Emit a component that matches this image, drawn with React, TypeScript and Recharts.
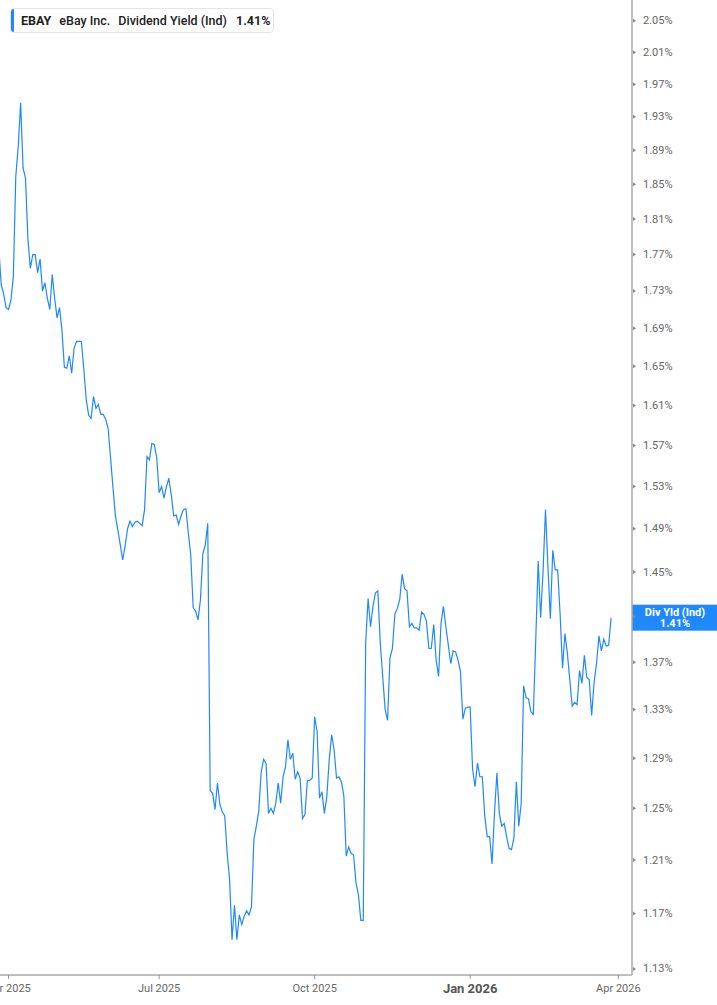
import React from 'react';
import { LineChart, Line, XAxis, YAxis, ReferenceLine } from 'recharts';

// ---- data ----
const TICKER = 'EBAY';
const COMPANY = 'eBay Inc.';
const METRIC = 'Dividend Yield (Ind)';
const SHORT_METRIC = 'Div Yld (Ind)';

// first trading day of the series and market holidays (used to lay out trading days)
const START_DATE = '2025-03-26';
const HOLIDAYS = [
  '2025-04-18', '2025-05-26', '2025-06-19', '2025-07-04', '2025-09-01',
  '2025-11-27', '2025-12-25', '2026-01-01', '2026-01-19', '2026-02-16', '2026-04-03',
];
const EXTRA_DAYS = 10; // empty trading days after the last value

// dividend yield in %, one value per trading day
const yieldValues = [
  1.778,
  1.737, 1.727, 1.712, 1.710, 1.720, 1.746, 1.859, 1.894, 1.947, 1.869,
  1.857, 1.787, 1.755, 1.770, 1.770, 1.750, 1.765, 1.730, 1.739, 1.722,
  1.710, 1.748, 1.722, 1.701, 1.712, 1.688, 1.649, 1.648, 1.661, 1.643,
  1.669, 1.676, 1.676, 1.676, 1.647, 1.616, 1.600, 1.597, 1.619, 1.607,
  1.611, 1.601, 1.601, 1.596, 1.587, 1.558, 1.529, 1.502, 1.489, 1.475,
  1.461, 1.474, 1.490, 1.497, 1.492, 1.496, 1.497, 1.495, 1.493, 1.508,
  1.559, 1.556, 1.572, 1.571, 1.558, 1.524, 1.530, 1.519, 1.530, 1.538,
  1.522, 1.502, 1.503, 1.494, 1.502, 1.508, 1.509, 1.486, 1.466, 1.418,
  1.415, 1.407, 1.425, 1.467, 1.475, 1.495, 1.264, 1.262, 1.249, 1.270,
  1.253, 1.247, 1.244, 1.215, 1.195, 1.151, 1.176, 1.151, 1.169, 1.162,
  1.168, 1.172, 1.169, 1.175, 1.226, 1.236, 1.248, 1.279, 1.289, 1.286,
  1.246, 1.250, 1.246, 1.254, 1.270, 1.254, 1.275, 1.283, 1.305, 1.289,
  1.294, 1.273, 1.279, 1.274, 1.242, 1.245, 1.272, 1.272, 1.274, 1.324,
  1.312, 1.258, 1.263, 1.246, 1.259, 1.289, 1.309, 1.297, 1.274, 1.275,
  1.271, 1.260, 1.213, 1.220, 1.215, 1.214, 1.193, 1.184, 1.165, 1.165,
  1.387, 1.426, 1.401, 1.419, 1.431, 1.433, 1.387, 1.358, 1.330, 1.321,
  1.374, 1.382, 1.412, 1.417, 1.425, 1.448, 1.435, 1.433, 1.401, 1.404,
  1.400, 1.400, 1.398, 1.414, 1.412, 1.406, 1.382, 1.382, 1.403, 1.372,
  1.358, 1.404, 1.419, 1.401, 1.385, 1.369, 1.380, 1.379, 1.372, 1.362,
  1.322, 1.331, 1.332, 1.332, 1.281, 1.267, 1.286, 1.275, 1.275, 1.244,
  1.228, 1.228, 1.207, 1.246, 1.278, 1.246, 1.236, 1.238, 1.228, 1.219,
  1.218, 1.227, 1.271, 1.236, 1.254, 1.350, 1.340, 1.339, 1.328, 1.326,
  1.390, 1.460, 1.409, 1.451, 1.508, 1.455, 1.408, 1.470, 1.452, 1.452,
  1.413, 1.365, 1.395, 1.378, 1.355, 1.333, 1.336, 1.334, 1.363, 1.352,
  1.376, 1.357, 1.355, 1.325, 1.353, 1.369, 1.393, 1.380, 1.390, 1.384,
  1.385, 1.409,
];

const yTicks = [
  1.13, 1.17, 1.21, 1.25, 1.29, 1.33, 1.37, 1.41, 1.45, 1.49, 1.53, 1.57,
  1.61, 1.65, 1.69, 1.73, 1.77, 1.81, 1.85, 1.89, 1.93, 1.97, 2.01, 2.05,
];
const Y_DOMAIN: [number, number] = [1.1257, 2.077];
const X_DOMAIN: [number, number] = [0.506, 260.6];

const MONTHS = ['Jan', 'Feb', 'Mar', 'Apr', 'May', 'Jun', 'Jul', 'Aug', 'Sep', 'Oct', 'Nov', 'Dec'];

// ---- build trading-day calendar ----
function buildTradingDays(start: string, count: number): Date[] {
  const out: Date[] = [];
  const d = new Date(start + 'T00:00:00Z');
  while (out.length < count) {
    const dow = d.getUTCDay();
    const iso = d.toISOString().slice(0, 10);
    if (dow !== 0 && dow !== 6 && !HOLIDAYS.includes(iso)) out.push(new Date(d.getTime()));
    d.setUTCDate(d.getUTCDate() + 1);
  }
  return out;
}

const tradingDays = buildTradingDays(START_DATE, yieldValues.length + EXTRA_DAYS);
const chartData = yieldValues.map((v, i) => ({ i, v }));
const quarterTicks = tradingDays
  .map((d, i) => ({ d, i }))
  .filter(({ d, i }) => i > 0 && d.getUTCMonth() !== tradingDays[i - 1].getUTCMonth() && d.getUTCMonth() % 3 === 0)
  .map(({ i }) => i);

const lastValue = yieldValues[yieldValues.length - 1];
const BLUE = '#1f88ff';
const FONT = 'Roboto, "Noto Sans", sans-serif';

const XTick = (props: any) => {
  const { x, y, payload } = props;
  const d = tradingDays[payload.value];
  if (!d) return null;
  const yearStart = d.getUTCMonth() === 0;
  return (
    <text
      x={x}
      y={y + 7}
      textAnchor="middle"
      dominantBaseline="central"
      fontFamily={FONT}
      fontSize={yearStart ? 13 : 11}
      fontWeight={yearStart ? 700 : 400}
      fill={yearStart ? '#555' : '#666'}
    >
      {`${MONTHS[d.getUTCMonth()]} ${d.getUTCFullYear()}`}
    </text>
  );
};

const YTick = (props: any) => {
  const { x, y, payload } = props;
  // the tick under the last-value badge is hidden by the badge
  const covered = Math.abs(payload.value - lastValue) < 0.01;
  return (
    <g>
      <polygon points={`${x + 1},${y - 2} ${x + 4},${y} ${x + 1},${y + 2}`} fill="#888" />
      {!covered && (
        <text x={x + 11} y={y} dominantBaseline="central" fontFamily={FONT} fontSize={11} fill="#666">
          {`${payload.value.toFixed(2)}%`}
        </text>
      )}
    </g>
  );
};

const LastValueLabel = (props: any) => {
  const vb = props.viewBox || {};
  const x0 = (vb.x ?? 0) + (vb.width ?? 0);
  const yc = vb.y ?? 0;
  return (
    <g>
      <rect x={x0} y={yc - 13} width={85} height={26} fill={BLUE} />
      <text x={x0 + 43} y={yc - 5} textAnchor="middle" dominantBaseline="central" fontFamily={FONT} fontSize={11} fontWeight={700} fill="#fff">
        {SHORT_METRIC}
      </text>
      <text x={x0 + 43} y={yc + 6} textAnchor="middle" dominantBaseline="central" fontFamily={FONT} fontSize={11} fontWeight={700} fill="#fff">
        {`${lastValue.toFixed(2)}%`}
      </text>
    </g>
  );
};

export default function App() {
  return (
    <div style={{ position: 'absolute', left: 0, top: 0, width: 717, height: 1005, background: '#fff' }}>
      <LineChart width={717} height={1005} data={chartData} margin={{ top: 0, right: 0, bottom: 0, left: 0 }}>
        <XAxis
          dataKey="i"
          type="number"
          domain={X_DOMAIN}
          allowDataOverflow
          ticks={quarterTicks}
          interval={0}
          height={30}
          tick={<XTick />}
          tickSize={4}
          tickMargin={2}
          tickLine={{ stroke: '#999' }}
          axisLine={{ stroke: '#aaa', strokeWidth: 1.5 }}
        />
        <YAxis
          orientation="right"
          type="number"
          scale="log"
          domain={Y_DOMAIN}
          allowDataOverflow
          ticks={yTicks}
          interval={0}
          width={85}
          tick={<YTick />}
          tickSize={0}
          tickMargin={0}
          tickLine={false}
          axisLine={{ stroke: '#aaa', strokeWidth: 1.5 }}
        />
        <Line
          type="linear"
          dataKey="v"
          stroke={BLUE}
          strokeWidth={1.2}
          dot={false}
          activeDot={false}
          isAnimationActive={false}
        />
        <ReferenceLine y={lastValue} stroke="none" label={<LastValueLabel />} />
      </LineChart>
      <div
        style={{
          position: 'absolute', left: 10, top: 8, width: 264, height: 25, boxSizing: 'border-box',
          border: '1px solid #e4e4e4', borderRadius: 4, background: '#fff', display: 'flex',
          alignItems: 'center', fontFamily: FONT, fontSize: 12.5, color: '#222', overflow: 'hidden',
          whiteSpace: 'nowrap',
        }}
      >
        <div style={{ width: 3, alignSelf: 'stretch', background: BLUE }} />
        <span style={{ marginLeft: 7, fontWeight: 700 }}>{TICKER}</span>
        <span style={{ marginLeft: 8, fontWeight: 500 }}>{COMPANY}</span>
        <span style={{ marginLeft: 8, fontWeight: 500 }}>{METRIC}</span>
        <span style={{ marginLeft: 9, fontWeight: 700 }}>{`${lastValue.toFixed(2)}%`}</span>
      </div>
    </div>
  );
}
